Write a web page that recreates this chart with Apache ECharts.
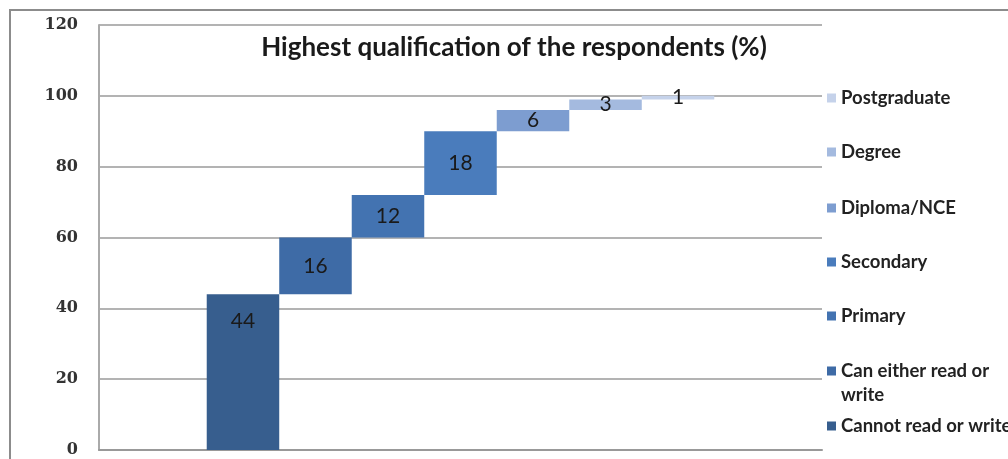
<!DOCTYPE html>
<html>
<head>
<meta charset="utf-8">
<script src="https://cdn.jsdelivr.net/npm/echarts@6/dist/echarts.min.js"></script>
<style>
  html, body { margin: 0; padding: 0; background: #fff; }
  #chart { width: 1008px; height: 459px; }
</style>
</head>
<body>
<div id="chart"></div>
<script>
// qualification levels, bottom step first
const levels = [
  'Cannot read or write',
  'Can either read or write',
  'Primary',
  'Secondary',
  'Diploma/NCE',
  'Degree',
  'Postgraduate'
]
const shares = [44, 16, 12, 18, 6, 3, 1]
const legendNames = {
  'Can either read or write': 'Can either read or\nwrite'
}
const colors = ['#375e8e', '#3e6ba6', '#4373b1', '#4a7cbc', '#7d9dd0', '#a4badf', '#c5d2ea']

const chart = echarts.init(document.getElementById('chart'))

// running total under every step
const bases = shares.map((v, i) => shares.slice(0, i).reduce((a, b) => a + b, 0))

const series = []
levels.forEach((name, i) => {
  series.push({
    name: 'base' + i,
    type: 'bar',
    stack: 'step' + i,
    silent: true,
    itemStyle: { color: 'transparent' },
    data: [bases[i]]
  })
  series.push({
    name: name,
    type: 'bar',
    stack: 'step' + i,
    barGap: '0%',
    barCategoryGap: '29.8%',
    itemStyle: { color: colors[i] },
    label: {
      show: true,
      position: i === 0 ? 'insideTop' : 'inside',
      distance: 17,
      color: '#1a1a1a',
      fontFamily: 'Lato',
      fontSize: 21
    },
    data: [shares[i]]
  })
})

// one legend per level so the slots stay evenly spaced like the original
const legendTops = [409, 354, 299, 245, 191, 135, 81]
const legends = levels.map((name, i) => {
  const twoLines = !!legendNames[name]
  return {
    data: [name],
    orient: 'vertical',
    left: 822,
    top: legendTops[i],
    itemWidth: 9,
    itemHeight: twoLines ? 33 : 9,
    itemGap: 0,
    // square sits on the first line of a wrapped name
    icon: twoLines ? 'path://M0,0h9v9h-9zM0,33h0.01' : 'rect',
    selectedMode: false,
    formatter: n => legendNames[n] || n,
    textStyle: {
      fontFamily: 'Lato',
      fontSize: 18.5,
      fontWeight: 'bold',
      color: '#222',
      lineHeight: 24
    }
  }
})

chart.setOption({
  animation: false,
  backgroundColor: '#fff',
  title: {
    text: 'Highest qualification of the respondents (%)',
    left: 509,
    textAlign: 'center',
    top: 30,
    textStyle: {
      fontFamily: 'Lato',
      fontSize: 26,
      fontWeight: 'bold',
      color: '#1a1a1a'
    }
  },
  graphic: [{
    type: 'rect',
    shape: { x: 10, y: 10, width: 1010, height: 470 },
    style: { fill: 'none', stroke: '#8c8c8c', lineWidth: 2 },
    silent: true
  }],
  legend: legends,
  grid: { left: 99, right: 186, top: 25, bottom: 9 },
  xAxis: {
    type: 'category',
    data: [''],
    axisTick: { show: false },
    axisLabel: { show: false },
    axisLine: { lineStyle: { color: '#999', width: 2 } }
  },
  yAxis: {
    type: 'value',
    min: 0,
    max: 120,
    interval: 20,
    axisLine: { show: true, lineStyle: { color: '#aaa', width: 2 } },
    axisTick: { show: false },
    axisLabel: {
      margin: 21,
      fontFamily: 'DejaVu Serif',
      fontWeight: 'bold',
      fontSize: 16,
      color: '#333'
    },
    splitLine: { lineStyle: { color: '#9a9a9a', width: 1.5 } }
  },
  series: series
})
</script>
</body>
</html>
